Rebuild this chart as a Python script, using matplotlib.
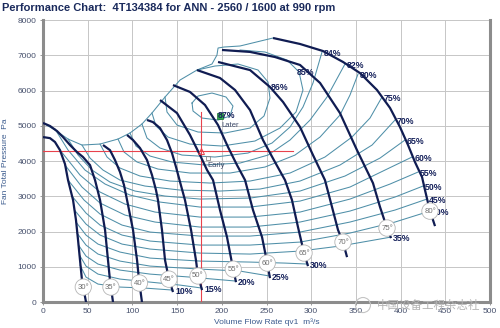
import matplotlib
matplotlib.use('Agg')
import matplotlib.pyplot as plt
import numpy as np
from matplotlib.patches import Ellipse

# ---- blade angle characteristics: flow qv1 (m3/s) and fan total pressure (Pa)
blade_angles = [30, 35, 40, 45, 50, 55, 60, 65, 70, 75, 80]

q30 = [0, 7.8, 13.4, 19.0, 24.6, 28.0, 33.6, 36.9, 39.2, 41.4, 43.6, 48.1]
p30 = [4680, 4650, 4540, 4310, 3915, 3460, 2895, 2325, 1760, 1190, 625, 0]
q35 = [0, 7.8, 15.7, 22.4, 30.2, 38.0, 44.7, 52.6, 58.2, 63.8, 69.4, 72.7, 74.9, 78.3]
p35 = [5080, 4995, 4850, 4680, 4455, 4255, 4115, 3885, 3460, 2895, 2045, 1190, 625, 0]
q40 = [67.1, 74.9, 80.5, 86.1, 90.6, 94.0, 100.7, 105.2, 107.4, 110.7]
p40 = [4455, 4310, 4030, 3690, 3320, 2895, 2045, 1190, 625, 0]
q45 = [94.0, 100.7, 108.5, 116.3, 121.9, 126.4, 128.6, 133.1, 136.5, 140.9, 145.4]
p45 = [4740, 4595, 4370, 4030, 3605, 3175, 2895, 2045, 1190, 650, 285]
q50 = [116.3, 123.0, 130.9, 138.7, 144.3, 148.8, 153.3, 158.8, 165.6, 171.1, 173.4, 177.9]
p50 = [5165, 5105, 4935, 4595, 4225, 3830, 3405, 2895, 2045, 1190, 740, 340]
q55 = [130.9, 149.9, 164.4, 175.6, 183.5, 190.2, 198.0, 205.8, 211.4, 215.9]
p55 = [5730, 5360, 4740, 4170, 3745, 3460, 2610, 1845, 1105, 565]
q60 = [145.4, 164.4, 181.2, 195.8, 207.0, 217.0, 226.0, 234.9, 245.0, 250.6, 253.9]
p60 = [6155, 5960, 5590, 5020, 4395, 3885, 3460, 2610, 1845, 1135, 680]
q65 = [172.3, 198.0, 214.8, 231.6, 246.1, 259.5, 270.7, 278.5, 285.2, 292.0, 296.4]
p65 = [6580, 6355, 6015, 5445, 4595, 3970, 3460, 2895, 2130, 1390, 1020]
q70 = [195.8, 231.6, 253.9, 268.5, 287.5, 302.0, 315.4, 323.3, 330.0, 335.6, 340.1]
p70 = [6810, 6580, 6100, 5675, 4965, 4170, 3460, 2695, 2045, 1700, 1275]
q75 = [200.2, 231.6, 259.5, 287.5, 309.9, 332.2, 351.2, 369.1, 377.0, 384.8, 389.3]
p75 = [7150, 7095, 6950, 6725, 6215, 5360, 4310, 3375, 2695, 2100, 1815]
q80 = [257.3, 287.5, 313.2, 335.6, 354.6, 373.6, 388.2, 399.3, 408.3, 416.1, 424.0,
       427.3, 430.7, 432.9, 438.5]
p80 = [7490, 7320, 7120, 6810, 6495, 6015, 5505, 4965, 4455, 3970, 3545,
       3175, 2810, 2580, 2155]

# pressure where each blade angle tag sits on its curve
blade_tag_p = [425, 425, 540, 650, 740, 935, 1105, 1390, 1700, 2100, 2580]

# ---- efficiency contours (%)
e10_q = [41.4, 48.1, 61.5, 86.1, 114.1, 145.4]
e10_p = [1050, 709, 511, 426, 397, 340]
e15_q = [40.8, 48.1, 61.5, 86.1, 119.7, 153.3, 177.9]
e15_p = [1333, 1021, 794, 653, 567, 482, 397]
e20_q = [39.7, 48.1, 61.5, 86.1, 119.7, 164.4, 215.9]
e20_p = [1617, 1305, 1078, 908, 794, 709, 596]
e25_q = [38.0, 48.1, 61.5, 86.1, 119.7, 175.6, 220.4, 253.9]
e25_p = [1958, 1617, 1362, 1163, 1021, 936, 879, 738]
e30_q = [36.9, 48.1, 61.5, 86.1, 119.7, 175.6, 231.6, 270.7, 296.4]
e30_p = [2270, 1901, 1645, 1419, 1248, 1163, 1135, 1106, 1078]
e35_q = [35.2, 48.1, 63.8, 88.4, 119.7, 175.6, 231.6, 287.5, 332.2, 389.3]
e35_p = [2610, 2213, 1901, 1645, 1504, 1390, 1362, 1447, 1589, 1844]
e40_q = [32.4, 48.1, 63.8, 88.4, 119.7, 175.6, 231.6, 287.5, 343.4, 393.7, 432.9]
e40_p = [3007, 2525, 2184, 1901, 1731, 1617, 1617, 1702, 1958, 2270, 2582]
e45_q = [28.0, 45.9, 63.8, 88.4, 119.7, 175.6, 231.6, 287.5, 343.4, 393.7, 429.5]
e45_p = [3461, 2894, 2497, 2184, 1986, 1872, 1872, 1986, 2270, 2610, 2922]
e50_q = [24.6, 43.6, 63.8, 91.7, 125.3, 175.6, 231.6, 287.5, 343.4, 393.7, 425.1]
e50_p = [3887, 3263, 2809, 2468, 2270, 2128, 2128, 2270, 2582, 2979, 3291]
e55_q = [19.0, 41.4, 63.8, 91.7, 125.3, 175.6, 231.6, 287.5, 343.4, 388.2, 419.5]
e55_p = [4312, 3603, 3121, 2780, 2553, 2411, 2411, 2553, 2922, 3348, 3688]
e60_q = [13.4, 28.0, 47.0, 69.4, 97.3, 130.9, 175.6, 231.6, 287.5, 343.4, 382.6, 412.8]
e60_p = [4908, 4312, 3745, 3348, 3036, 2837, 2695, 2695, 2865, 3263, 3745, 4114]
e65_q = [28.0, 39.2, 54.8, 74.9, 102.9, 136.5, 175.6, 231.6, 287.5, 337.8, 377.0, 404.9]
e65_p = [4624, 4170, 3745, 3404, 3149, 3007, 2922, 2950, 3149, 3575, 4085, 4596]
e70_q = [43.6, 52.6, 67.1, 86.1, 114.1, 153.3, 198.0, 242.7, 287.5, 332.2, 368.1, 393.7]
e70_p = [4454, 4085, 3745, 3461, 3291, 3177, 3149, 3206, 3433, 3887, 4454, 5163]
e75_q = [63.8, 71.6, 86.1, 108.5, 142.1, 186.8, 231.6, 276.3, 315.4, 345.6, 365.8, 379.2]
e75_p = [4482, 4114, 3802, 3575, 3433, 3376, 3433, 3660, 4114, 4681, 5220, 5816]
e80_q = [83.9, 90.6, 105.2, 128.6, 164.4, 209.2, 248.3, 281.9, 309.9, 332.2, 343.4, 352.4]
e80_p = [4624, 4256, 3972, 3773, 3660, 3660, 3830, 4170, 4681, 5305, 5873, 6468]
e82_q = [97.3, 104.0, 119.7, 144.3, 181.2, 220.4, 251.7, 276.3, 298.7, 317.7, 337.8]
e82_p = [4795, 4426, 4142, 3972, 3887, 3943, 4170, 4596, 5163, 5816, 6752]
e84_q = [110.7, 116.3, 130.9, 155.5, 192.4, 229.3, 256.2, 276.3, 290.8, 302.0, 312.1]
e84_p = [5050, 4653, 4369, 4170, 4114, 4227, 4511, 4965, 5532, 6213, 7093]
e85_q = [121.9, 126.4, 139.8, 164.4, 200.2, 237.1, 265.1, 283.0, 290.8, 286.4, 272.9, 248.3, 220.4]
e85_p = [5362, 4993, 4681, 4482, 4426, 4568, 4936, 5390, 6014, 6525, 6866, 7093, 7149]
e86_q = [136.5, 138.7, 149.9, 173.4, 203.6, 231.6, 247.2, 253.9, 251.7, 240.5, 218.1, 192.4, 172.3]
e86_p = [5816, 5390, 5021, 4823, 4795, 4936, 5277, 5787, 6241, 6582, 6752, 6695, 6582]
e865_q = [166.7, 173.4, 189.0, 204.7, 212.5, 209.2, 195.8, 177.9, 167.8, 166.7]
e865_p = [5646, 5844, 5929, 5816, 5560, 5277, 5163, 5220, 5419, 5646]

# stall limit line joining the curve tops
stall_q = [0, 13.4, 28.0, 43.6, 63.8, 83.9, 97.3, 110.7, 121.9, 136.5, 153.3, 172.3,
           189.0, 194.6, 195.8, 202.5, 220.4, 257.3]
stall_p = [5078, 4880, 4624, 4454, 4482, 4624, 4795, 5050, 5362, 5816, 6298, 6582,
           6752, 7007, 7206, 7234, 7263, 7490]

# best efficiency point and duty point
peak_q, peak_p = 198.0, 5275
duty_q, duty_p = 176.4, 4292
early_q, early_p = 184.6, 4085

NAVY = '#101c52'
TEAL = '#4f8fa8'
TXT = '#14205a'

plt.rcParams['font.family'] = ['Liberation Sans', 'DejaVu Sans']

fig = plt.figure(figsize=(5.0, 3.28), dpi=100)
ax = fig.add_axes([0.086, 0.079, 0.894, 0.860])
ax.set_xlim(0, 500)
ax.set_ylim(0, 8000)
ax.set_xticks(np.arange(0, 501, 50))
ax.set_yticks(np.arange(0, 8001, 1000))
ax.grid(True, color='#c6c6c6', lw=0.7)
ax.set_axisbelow(True)
for s in ['left', 'bottom', 'right']:
    ax.spines[s].set_color('#8c8c8c')
    ax.spines[s].set_linewidth(2.2)
ax.spines['top'].set_visible(False)
ax.tick_params(labelsize=6, colors='#8c8c8c', labelcolor='#46506c', length=2.5, width=0.6, pad=2)

# efficiency contours
eff_lines = [
    (10, e10_q, e10_p), (15, e15_q, e15_p), (20, e20_q, e20_p), (25, e25_q, e25_p),
    (30, e30_q, e30_p), (35, e35_q, e35_p), (40, e40_q, e40_p), (45, e45_q, e45_p),
    (50, e50_q, e50_p), (55, e55_q, e55_p), (60, e60_q, e60_p), (65, e65_q, e65_p),
    (70, e70_q, e70_p), (75, e75_q, e75_p), (80, e80_q, e80_p), (82, e82_q, e82_p),
    (84, e84_q, e84_p), (85, e85_q, e85_p), (86, e86_q, e86_p), (86.5, e865_q, e865_p),
]
for eff, q, p in eff_lines:
    ax.plot(q, p, color=TEAL, lw=0.75, zorder=2)
    if eff <= 84:
        ax.annotate(f'{eff}%', xy=(q[-1], p[-1]), xytext=(1.5, -1), textcoords='offset points',
                    fontsize=6.3, fontweight='bold', color=TXT, va='center', ha='left', zorder=5)
ax.plot(stall_q, stall_p, color=TEAL, lw=0.75, zorder=2)

# duty point cross
ax.plot([duty_q, duty_q], [0, 5400], color='#e8424c', lw=0.8, zorder=3)
ax.plot([0, 280], [duty_p, duty_p], color='#e8424c', lw=0.8, zorder=3)
ax.plot(duty_q, duty_p, marker='^', ms=4, mfc='none', mec='#e8424c', mew=0.7, zorder=6)
ax.plot(early_q, early_p, marker='s', ms=3.5, mfc='none', mec='#8a8a8a', mew=0.6, zorder=6)
ax.text(early_q - 1, early_p - 120, 'Early', fontsize=5.5, color='#3c4868', va='top', zorder=6)

# blade angle curves
blades = [q30, q35, q40, q45, q50, q55, q60, q65, q70, q75, q80]
blades_p = [p30, p35, p40, p45, p50, p55, p60, p65, p70, p75, p80]
for ang, q, p, tp in zip(blade_angles, blades, blades_p, blade_tag_p):
    ax.plot(q, p, color=NAVY, lw=1.6, zorder=4, solid_capstyle='butt')
    tq = np.interp(tp, p[::-1], q[::-1])
    ax.text(tq, tp, f'{ang}°', fontsize=5.6, color='#6e6e6e', ha='center', va='center', zorder=7,
            bbox=dict(boxstyle='circle,pad=0.3', fc='white', ec='#b4b4b4', lw=0.6))

# inner labels
ax.text(254.4, 6100, '86%', fontsize=6.3, fontweight='bold', color=TXT, va='center', zorder=5)
ax.text(284.1, 6525, '85%', fontsize=6.3, fontweight='bold', color=TXT, va='center', zorder=5)
ax.plot(peak_q, peak_p, marker='s', ms=4, mfc='#2fb04c', mec='#1b6e30', mew=0.5, zorder=6)
ax.text(peak_q - 2, peak_p + 20, '87%', fontsize=6.3, fontweight='bold', color=TXT, va='center', zorder=7)
ax.text(peak_q + 2, peak_p - 260, 'Later', fontsize=5.5, color='#3c4868', va='center', zorder=6)

ax.set_xlabel('Volume Flow Rate qv1  m³/s', fontsize=6, color='#3b5b8e', labelpad=2)
ax.set_ylabel('Fan Total Pressure  Pa', fontsize=6, color='#3b5b8e', labelpad=6)

fig.text(0.004, 0.976, 'Performance Chart:  4T134384 for ANN - 2560 / 1600 at 990 rpm',
         fontsize=8, fontweight='bold', color='#1a2a5c', va='center', ha='left')

# watermark
fig.add_artist(Ellipse((0.726, 0.07), width=0.03, height=0.046, transform=fig.transFigure,
                       fill=False, ec='#c4c4c4', lw=0.8))
fig.text(0.754, 0.07, '中国设备工程杂志社', fontsize=8.3, color='#b4b4b4', va='center', ha='left',
         family=['Noto Sans CJK SC', 'DejaVu Sans'])

fig.savefig('out.png', dpi=100)
